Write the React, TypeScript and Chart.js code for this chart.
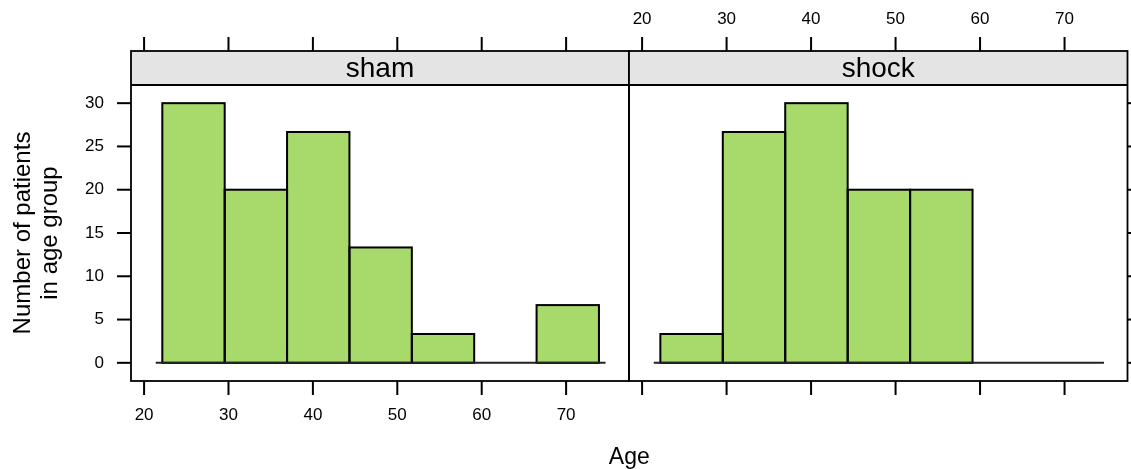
import React, { useEffect, useRef } from "react";
import { Chart, registerables } from "chart.js";

Chart.register(...registerables);

// Histogram of patient ages, conditioned on treatment group (percent of group per bin)
const AGE_BREAKS = [22.16, 29.55, 36.94, 44.33, 51.72, 59.11, 66.5, 73.89];
const SHAM_PCT = [30, 20, 26.67, 13.33, 3.33, 0, 6.67];
const SHOCK_PCT = [3.33, 26.67, 30, 20, 20, 0, 0];
const GROUPS = ["sham", "shock"];
const X_TICKS = [20, 30, 40, 50, 60, 70];
const Y_TICKS = [0, 5, 10, 15, 20, 25, 30];
const X_LIMITS = [18.45, 77.45];
const Y_LIMITS = [-2.1, 32.1];
const BASELINE_SPAN = [21.38, 74.67];
const Y_TITLE = ["Number of patients", "in age group"];
const X_TITLE = "Age";

const W = 1131;
const H = 469;
const FONT = '"Liberation Sans", Arial, Helvetica, sans-serif';
const FILL = "#a8d96b";
const STRIP_FILL = "#e4e4e4";
const STRIP_H = 34;
const TICK_LEN = 14;

// panel rectangles on the page: [left, right]
const PANEL_X = [
  [131, 629],
  [629, 1127.5],
];
const PANEL_TOP = 85;
const PANEL_BOTTOM = 381;

function makePlugin(panel: number) {
  return {
    id: "latticePanel" + panel,
    afterDatasetsDraw(chart: any) {
      const { ctx, chartArea: a } = chart;
      const xs = chart.scales.x;
      const ys = chart.scales.y;
      ctx.save();

      // bar outlines, stroked on the bin edges
      ctx.strokeStyle = "#000";
      ctx.lineWidth = 2;
      const meta = chart.getDatasetMeta(0);
      meta.data.forEach((bar: any) => {
        const p = bar.getProps(["x", "y", "base", "width"], true);
        if (Math.abs(p.base - p.y) < 0.5) return;
        ctx.strokeRect(p.x - p.width / 2, p.y, p.width, p.base - p.y);
      });

      // zero reference line
      ctx.strokeStyle = "#222";
      ctx.lineWidth = 2;
      ctx.beginPath();
      ctx.moveTo(xs.getPixelForValue(BASELINE_SPAN[0]), ys.getPixelForValue(0));
      ctx.lineTo(xs.getPixelForValue(BASELINE_SPAN[1]), ys.getPixelForValue(0));
      ctx.stroke();

      // strip
      const sTop = a.top - STRIP_H;
      ctx.fillStyle = STRIP_FILL;
      ctx.fillRect(a.left, sTop, a.right - a.left, STRIP_H);
      ctx.fillStyle = "#000";
      ctx.font = `28px ${FONT}`;
      ctx.textAlign = "center";
      ctx.textBaseline = "alphabetic";
      ctx.fillText(GROUPS[panel], (a.left + a.right) / 2, sTop + 26);

      // frame
      ctx.strokeStyle = "#000";
      ctx.lineWidth = 1.8;
      ctx.strokeRect(a.left, sTop, a.right - a.left, a.bottom - sTop);
      ctx.beginPath();
      ctx.moveTo(a.left, a.top);
      ctx.lineTo(a.right, a.top);
      ctx.stroke();

      // x ticks: labels at bottom on the first panel, on top on the second
      ctx.lineWidth = 2;
      ctx.font = `17px ${FONT}`;
      ctx.textAlign = "center";
      ctx.textBaseline = "middle";
      X_TICKS.forEach((v) => {
        const px = xs.getPixelForValue(v);
        ctx.beginPath();
        ctx.moveTo(px, sTop);
        ctx.lineTo(px, sTop - TICK_LEN);
        ctx.moveTo(px, a.bottom);
        ctx.lineTo(px, a.bottom + TICK_LEN);
        ctx.stroke();
        if (panel === 0) ctx.fillText(String(v), px, a.bottom + 34);
        else ctx.fillText(String(v), px, sTop - 32);
      });

      // y ticks: labelled on the left panel, bare on the right edge
      Y_TICKS.forEach((v) => {
        const py = ys.getPixelForValue(v);
        ctx.beginPath();
        if (panel === 0) {
          ctx.moveTo(a.left, py);
          ctx.lineTo(a.left - TICK_LEN, py);
        } else {
          ctx.moveTo(a.right, py);
          ctx.lineTo(a.right + TICK_LEN, py);
        }
        ctx.stroke();
        if (panel === 0) {
          ctx.textAlign = "right";
          ctx.fillText(String(v), a.left - 27, py);
        }
      });

      if (panel === 0) {
        // axis titles
        ctx.font = `24px ${FONT}`;
        ctx.textAlign = "center";
        ctx.textBaseline = "alphabetic";
        const midY = (a.top + a.bottom) / 2;
        Y_TITLE.forEach((line, i) => {
          ctx.save();
          ctx.translate(30 + i * 27, midY);
          ctx.rotate(-Math.PI / 2);
          ctx.fillText(line, 0, 0);
          ctx.restore();
        });
        ctx.font = `23px ${FONT}`;
        ctx.fillText(X_TITLE, (PANEL_X[0][0] + PANEL_X[1][1]) / 2, 464);
      }
      ctx.restore();
    },
  };
}

function PanelChart({ panel, values }: { panel: number; values: number[] }) {
  const ref = useRef<HTMLCanvasElement | null>(null);
  useEffect(() => {
    if (!ref.current) return;
    const centers = AGE_BREAKS.slice(0, -1).map((b, i) => (b + AGE_BREAKS[i + 1]) / 2);
    const chart = new Chart(ref.current, {
      type: "bar",
      data: {
        datasets: [
          {
            data: centers.map((c, i) => ({ x: c, y: values[i] })),
            backgroundColor: FILL,
            borderWidth: 0,
            barPercentage: 1,
            categoryPercentage: 1,
          } as any,
        ],
      },
      options: {
        responsive: false,
        animation: false,
        events: [],
        layout: {
          padding: {
            left: PANEL_X[panel][0],
            right: W - PANEL_X[panel][1],
            top: PANEL_TOP,
            bottom: H - PANEL_BOTTOM,
          },
        },
        plugins: { legend: { display: false }, tooltip: { enabled: false } },
        scales: {
          x: {
            type: "linear",
            display: false,
            min: X_LIMITS[0],
            max: X_LIMITS[1],
            offset: false,
            afterBuildTicks: (s: any) => {
              s.ticks = X_TICKS.map((v) => ({ value: v }));
            },
          },
          y: {
            type: "linear",
            display: false,
            min: Y_LIMITS[0],
            max: Y_LIMITS[1],
          },
        },
      },
      plugins: [makePlugin(panel)],
    });
    return () => chart.destroy();
  }, [panel, values]);
  return (
    <canvas
      ref={ref}
      width={W}
      height={H}
      style={{ position: "absolute", left: 0, top: 0, width: W, height: H }}
    />
  );
}

export default function App() {
  return (
    <div
      style={{
        position: "fixed",
        left: 0,
        top: 0,
        width: W,
        height: H,
        background: "#fff",
        overflow: "hidden",
      }}
    >
      <PanelChart panel={0} values={SHAM_PCT} />
      <PanelChart panel={1} values={SHOCK_PCT} />
    </div>
  );
}
